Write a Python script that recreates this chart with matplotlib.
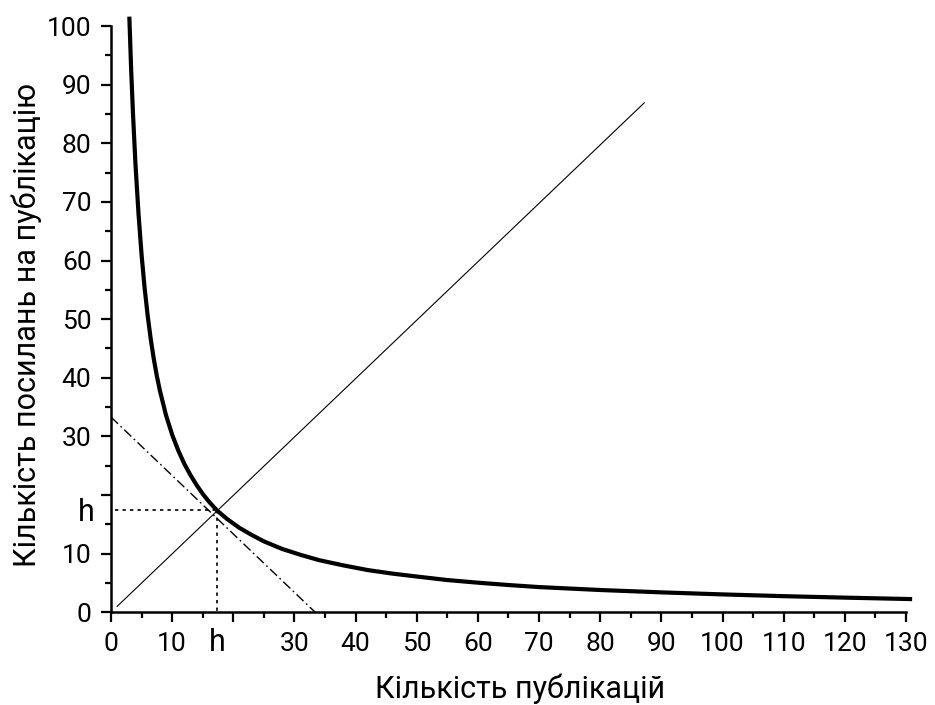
import matplotlib.pyplot as plt

plt.rcParams['font.family'] = ['Roboto', 'DejaVu Sans']

# curve (publications vs citations per publication)
curve_x = [3.0, 3.3, 3.6, 4.0, 4.5, 5.0, 5.5, 6.0, 6.5, 7.0, 7.5, 8.0, 9.0, 10.0,
           11.0, 12.0, 13.0, 14.0, 15.0, 16.0, 17.3, 19.0, 21.0, 23.0, 25.0, 28.0,
           31.0, 34.0, 38.0, 42.0, 46.0, 50.0, 55.0, 60.0, 65.0, 70.0, 75.0, 80.0,
           90.0, 100.0, 110.0, 120.0, 131.0]
curve_y = [101.6, 92.5, 85.0, 76.5, 68.0, 61.0, 55.3, 50.6, 46.6, 43.2, 40.3, 37.8, 33.6, 30.3,
           27.6, 25.3, 23.4, 21.7, 20.2, 18.9, 17.4, 15.9, 14.4, 13.2, 12.1, 10.8,
           9.8, 8.9, 8.0, 7.2, 6.6, 6.1, 5.5, 5.05, 4.65, 4.3, 4.05, 3.8,
           3.4, 3.05, 2.75, 2.5, 2.25]

diag_x = [1.0, 87.2]
diag_y = [1.0, 86.9]

tangent_x = [0.0, 33.4]
tangent_y = [33.3, 0.0]

h = 17.4

x_ticks = [0, 10, 20, 30, 40, 50, 60, 70, 80, 90, 100, 110, 120, 130]
x_labels = ['0', '10', '', '30', '40', '50', '60', '70', '80', '90', '100', '110', '120', '130']
y_ticks = [0, 10, 20, 30, 40, 50, 60, 70, 80, 90, 100]
y_labels = ['0', '10', '', '30', '40', '50', '60', '70', '80', '90', '100']

fig = plt.figure(figsize=(9.35, 7.05), dpi=100)
ax = fig.add_axes([0.1187, 0.1315, 0.969 - 0.1187, 0.9631 - 0.1315])

ax.plot(curve_x, curve_y, color='black', lw=3, clip_on=False, solid_capstyle='butt',
        solid_joinstyle='round')
ax.plot(diag_x, diag_y, color='black', lw=0.8)
ax.plot(tangent_x, tangent_y, color='black', lw=1.0, linestyle=(0, (7, 2.5, 1.2, 2.5)))
ax.plot([0.6, h], [h, h], color='black', lw=1.2, linestyle=(0, (2, 2.5)))
ax.plot([h, h], [h, 0], color='black', lw=1.2, linestyle=(0, (2, 2.5)))

ax.set_xlim(0, 130)
ax.set_ylim(0, 100)
ax.set_xticks(x_ticks)
ax.set_xticklabels(x_labels)
ax.set_yticks(y_ticks)
ax.set_yticklabels(y_labels)
ax.set_xticks(range(5, 130, 10), minor=True)
ax.set_yticks(range(5, 100, 10), minor=True)

ax.spines['top'].set_visible(False)
ax.spines['right'].set_visible(False)
for s in ['left', 'bottom']:
    ax.spines[s].set_linewidth(1.8)

ax.tick_params(which='major', direction='out', length=7, width=1.6, labelsize=19)
ax.tick_params(axis='x', which='major', pad=7)
ax.tick_params(axis='y', which='major', pad=7)
ax.tick_params(which='minor', direction='out', length=4.5, width=1.6)

# "h" labels in place of 20
ax.annotate('h', xy=(h, 0), xycoords='data', xytext=(0, -28), textcoords='offset points',
            ha='center', va='baseline', fontsize=22)
ax.annotate('h', xy=(0, h), xycoords='data', xytext=(-11.5, -8), textcoords='offset points',
            ha='right', va='baseline', fontsize=22)

fig.text(0.556, 1 - 698 / 705, 'Кількість публікацій', ha='center', va='baseline', fontsize=22)
fig.text(0.012, 0.539, 'Кількість посилань на публікацію', ha='left', va='center',
         rotation=90, fontsize=22)

fig.savefig('out.png', dpi=100)
